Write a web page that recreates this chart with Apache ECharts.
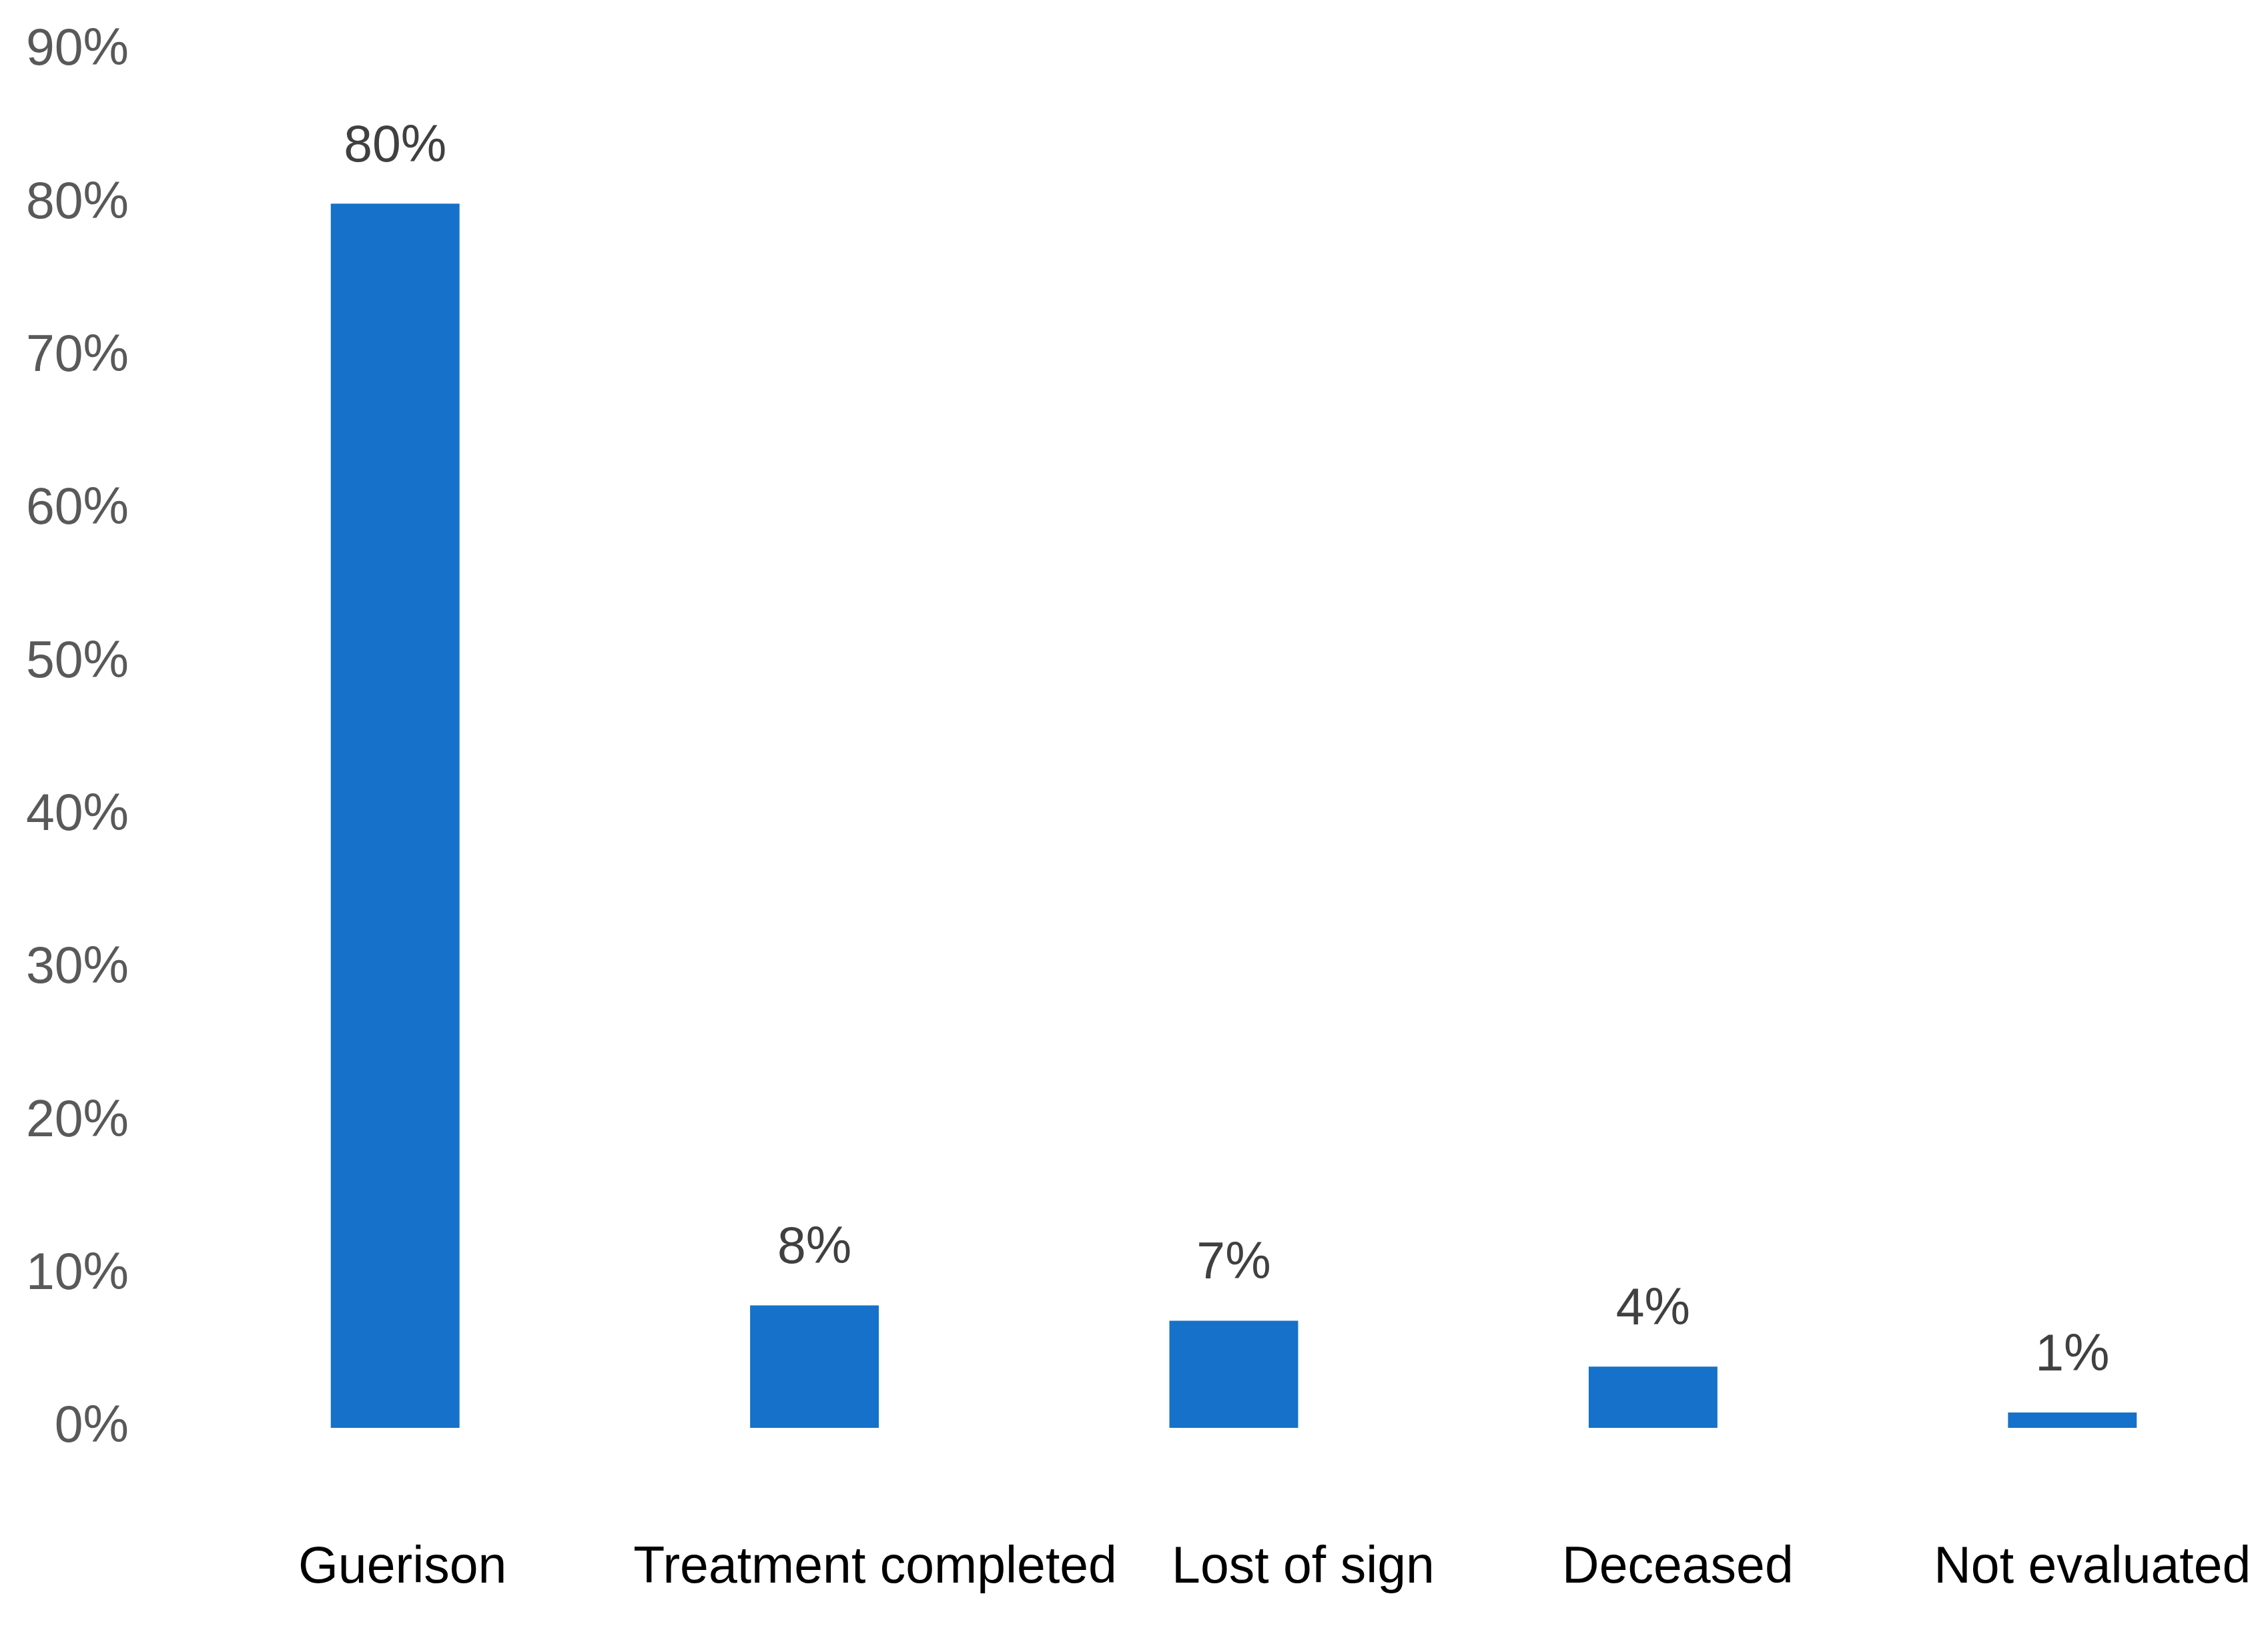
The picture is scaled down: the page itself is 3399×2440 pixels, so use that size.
<!DOCTYPE html>
<html>
<head>
<meta charset="utf-8">
<script src="https://cdn.jsdelivr.net/npm/echarts@6/dist/echarts.min.js"></script>
<style>
html,body{margin:0;padding:0;background:#ffffff;}
#chart{width:3399px;height:2440px;}
</style>
</head>
<body>
<div id="chart"></div>
<script>
var categories = ['Guerison', 'Treatment completed', 'Lost of sign', 'Deceased', 'Not evaluated'];
var values = [80, 8, 7, 4, 1];
var yMin = 0, yMax = 90, yStep = 10;

var FONT = '"Liberation Sans", Arial, sans-serif';
// horizontal nudge of each category label (style only)
var labelNudge = [11, 91, 104, 37, 30];
var xData = categories.map(function (c, i) {
  return {value: c, textStyle: {padding: [0, 0, 0, 2 * labelNudge[i]]}};
});

var chart = echarts.init(document.getElementById('chart'), null, {renderer: 'canvas'});
chart.setOption({
  backgroundColor: '#ffffff',
  animation: false,
  grid: {left: 278, top: 76, width: 3142, height: 2064, containLabel: false, outerBoundsMode: 'none'},
  xAxis: {
    type: 'category',
    data: xData,
    axisLine: {show: false},
    axisTick: {show: false},
    splitLine: {show: false},
    axisLabel: {color: '#000000', fontFamily: FONT, fontSize: 77, margin: 172, interval: 0}
  },
  yAxis: {
    type: 'value',
    min: yMin, max: yMax, interval: yStep,
    axisLine: {show: false},
    axisTick: {show: false},
    splitLine: {show: false},
    axisLabel: {color: '#595959', fontFamily: FONT, fontSize: 77, margin: 85, formatter: '{value}%'}
  },
  series: [{
    type: 'bar',
    data: values,
    barWidth: '30.7%',
    itemStyle: {color: '#1571c9'},
    label: {show: true, position: 'top', distance: 46, color: '#404040', fontFamily: FONT, fontSize: 77, formatter: '{c}%'}
  }]
});
</script>
</body>
</html>
